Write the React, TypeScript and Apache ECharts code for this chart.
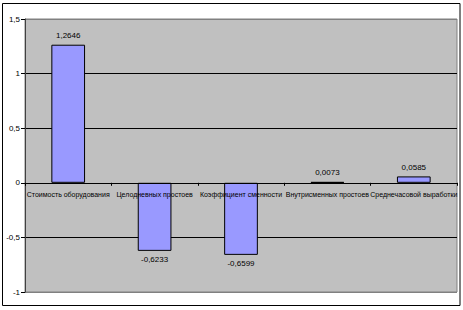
import React, { useEffect, useRef } from "react";
import * as echarts from "echarts";

const categories = [
  "Стоимость оборудования",
  "Целодневных простоев",
  "Коэффициент сменности",
  "Внутрисменных простоев",
  "Среднечасовой выработки",
];
const values = [1.2646, -0.6233, -0.6599, 0.0073, 0.0585];
const valueLabels = ["1,2646", "-0,6233", "-0,6599", "0,0073", "0,0585"];
const yMin = -1;
const yMax = 1.5;
const yStep = 0.5;

const FONT = "'Liberation Sans', Arial, sans-serif";
const GRID = { left: 25, top: 19, right: 6, bottom: 18 };
const H = 310;
const W = 463;

export default function App() {
  const ref = useRef<HTMLDivElement>(null);
  useEffect(() => {
    if (!ref.current) return;
    const chart = echarts.init(ref.current, undefined, { renderer: "svg" });
    const gridH = H - GRID.top - GRID.bottom;
    const zeroOffset = -(gridH * (0 - yMin)) / (yMax - yMin);
    chart.setOption({
      animation: false,
      backgroundColor: "#ffffff",
      grid: {
        ...GRID,
        show: true,
        backgroundColor: "#C0C0C0",
        borderColor: "#808080",
        borderWidth: 1,
      },
      graphic: [
        {
          type: "rect",
          shape: { x: 2.5, y: 3.5, width: 457.5, height: 302 },
          style: { fill: "none", stroke: "#000", lineWidth: 1 },
          silent: true,
          z: 100,
        },
      ],
      xAxis: {
        type: "category",
        data: categories,
        position: "bottom",
        offset: zeroOffset,
        z: 10,
        axisLine: { show: true, onZero: false, lineStyle: { color: "#000", width: 1 } },
        axisTick: { show: true, length: 3, alignWithLabel: false, lineStyle: { color: "#000" } },
        axisLabel: {
          color: "#000",
          fontSize: 7,
          fontFamily: FONT,
          margin: 8,
          interval: 0,
          hideOverlap: false,
        },
        splitLine: { show: false },
      },
      yAxis: {
        type: "value",
        min: yMin,
        max: yMax,
        interval: yStep,
        axisLine: { show: true, lineStyle: { color: "#404040", width: 1 } },
        axisTick: { show: true, length: 4, lineStyle: { color: "#000" } },
        axisLabel: {
          color: "#000",
          fontSize: 8,
          fontFamily: FONT,
          margin: 5,
          formatter: (v: number) => String(v).replace(".", ","),
        },
        splitLine: {
          show: true,
          lineStyle: {
            color: ["#808080", "#000", "#000", "#000", "#000", "#808080"],
            width: 1,
          },
        },
      },
      series: [
        {
          type: "bar",
          z: 2,
          barWidth: "39%",
          itemStyle: { color: "#9999FF", borderColor: "#000", borderWidth: 1 },
          data: values.map((v, i) => ({
            value: v,
            label: {
              show: true,
              position: v >= 0 ? "top" : "bottom",
              distance: 5,
              formatter: valueLabels[i],
              color: "#000",
              fontSize: 8,
              fontFamily: FONT,
            },
          })),
        },
      ],
    });
    return () => chart.dispose();
  }, []);
  return (
    <div
      ref={ref}
      style={{ position: "fixed", left: 0, top: 0, width: W, height: H }}
    />
  );
}
